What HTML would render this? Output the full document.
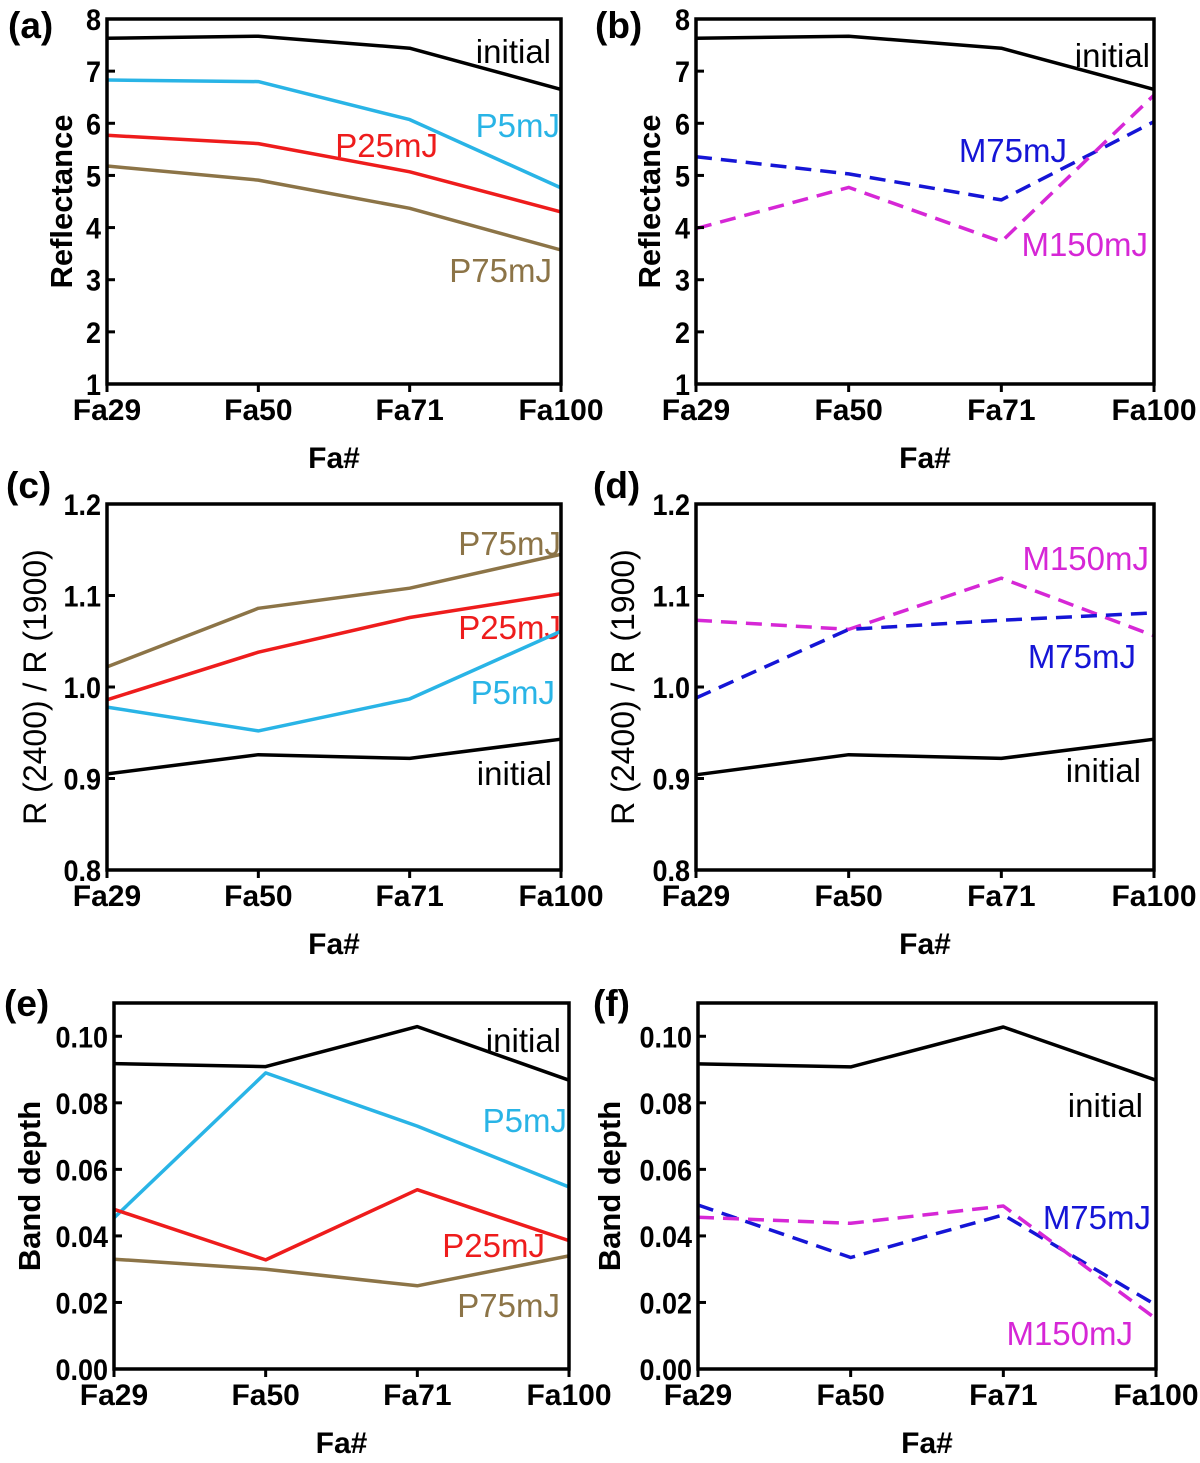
<!DOCTYPE html>
<html><head><meta charset="utf-8"><style>
html,body{margin:0;padding:0;background:#fff;}
svg{display:block;font-family:"Liberation Sans",Arial,sans-serif;}
</style></head><body>
<svg id="fig" width="1200" height="1463" viewBox="0 0 1200 1463" xmlns="http://www.w3.org/2000/svg"></svg>
<script>
const categories = ["Fa29","Fa50","Fa71","Fa100"];
// (a)
const aInitial = [7.63,7.67,7.44,6.65];
const aP5 = [6.83,6.80,6.07,4.76];
const aP25 = [5.77,5.61,5.07,4.30];
const aP75 = [5.18,4.91,4.37,3.57];
const aTicks = ["1","2","3","4","5","6","7","8"];
// (b)
const bInitial = [7.63,7.67,7.44,6.65];
const bM75 = [5.36,5.03,4.53,6.03];
const bM150 = [3.98,4.77,3.73,6.54];
// (c)
const cInitial = [0.905,0.926,0.922,0.943];
const cP5 = [0.978,0.952,0.987,1.061];
const cP25 = [0.986,1.038,1.076,1.102];
const cP75 = [1.022,1.086,1.108,1.145];
const cTicks = ["0.8","0.9","1.0","1.1","1.2"];
// (d)
const dInitial = [0.904,0.926,0.922,0.943];
const dM150 = [1.073,1.063,1.119,1.056];
const dM75 = [0.988,1.063,1.073,1.081];
// (e)
const eInitial = [0.0918,0.0909,0.1029,0.0868];
const eP5 = [0.0454,0.089,0.073,0.0547];
const eP25 = [0.048,0.0328,0.0539,0.0386];
const eP75 = [0.033,0.030,0.025,0.034];
const eTicks = ["0.00","0.02","0.04","0.06","0.08","0.10"];
// (f)
const fInitial = [0.0917,0.0908,0.1028,0.0868];
const fM75 = [0.0493,0.0335,0.0463,0.0192];
const fM150 = [0.0456,0.0438,0.049,0.0151];

const NS="http://www.w3.org/2000/svg";
const svg=document.getElementById('fig');
function mk(tag,attrs,parent){const e=document.createElementNS(NS,tag);for(const k in attrs)e.setAttribute(k,attrs[k]);(parent||svg).appendChild(e);return e;}

const C={black:"#000",p5:"#29b4e6",p25:"#ee1c1c",p75:"#8c7447",m75:"#1515d6",m150:"#d627d6"};

function panel(cfg){
  const g=mk('g',{});
  
  
  const {L,R,T,B,ymin,ymax}=cfg;
  const xs=i=>L+(R-L)*i/(categories.length-1);
  const ys=v=>B-(v-ymin)/(ymax-ymin)*(B-T);
  cfg.series.forEach(s=>{
    const pts=s.data.map((v,i)=>xs(i).toFixed(1)+','+ys(v).toFixed(1)).join(' ');
    const pl=mk('polyline',{points:pts,fill:'none',stroke:s.color,'stroke-width':3.5,'stroke-linejoin':'round'},g);
    if(s.dash)pl.setAttribute('stroke-dasharray','16 9');
    
    
    const t=mk('text',{x:s.lx,y:s.ly,'font-size':33,fill:s.color,'text-anchor':'end'},g);
    t.textContent=s.label;
    
    
  });
  const box=mk('rect',{x:L,y:T,width:R-L,height:B-T,fill:'none',stroke:'#000','stroke-width':3.5},g);
  
  
  cfg.ticks.forEach(lbl=>{
    const v=parseFloat(lbl);const y=ys(v);
    mk('line',{x1:L,x2:L+8,y1:y,y2:y,stroke:'#000','stroke-width':3},g);
    const t=mk('text',{x:L-6,y:y+11,'font-size':30,'font-weight':'bold','text-anchor':'end',transform:`translate(${L-6},0) scale(0.9,1) translate(${-(L-6)},0)`},g);
    t.textContent=lbl;
    
    
  });
  categories.forEach((c,i)=>{
    const x=xs(i);
    mk('line',{x1:x,x2:x,y1:B,y2:B+8,stroke:'#000','stroke-width':3},g);
    const t=mk('text',{x:x,y:B+36,'font-size':30,'font-weight':'bold','text-anchor':'middle'},g);
    t.textContent=c;
    
    
  });
  const xt=mk('text',{x:(L+R)/2,y:B+84,'font-size':30,'font-weight':'bold','text-anchor':'middle'},g);
  xt.textContent='Fa#';
  
  
  const yt=mk('text',{x:0,y:0,'font-size':cfg.ytfs||31,'font-weight':cfg.ytBold?'bold':'normal','text-anchor':'middle',transform:`translate(${cfg.ytx},${(T+B)/2}) rotate(-90)`},g);
  yt.textContent=cfg.ytitle;
  
  
  const pl=mk('text',{x:cfg.px,y:cfg.py,'font-size':37,'font-weight':'bold'},g);
  pl.textContent=cfg.letter;
  
  
}

panel({id:'a',letter:'(a)',px:8,py:38,L:107,R:561,T:19,B:384,ymin:1,ymax:8,ticks:aTicks,ytitle:'Reflectance',ytx:72,ytBold:true,
 series:[
  {name:'initial',data:aInitial,color:C.black,label:'initial',lx:551,ly:63},
  {name:'p5mj',data:aP5,color:C.p5,label:'P5mJ',lx:560,ly:137},
  {name:'p25mj',data:aP25,color:C.p25,label:'P25mJ',lx:438,ly:157},
  {name:'p75mj',data:aP75,color:C.p75,label:'P75mJ',lx:552,ly:282}]});
panel({id:'b',letter:'(b)',px:595,py:38,L:696,R:1154,T:19,B:384,ymin:1,ymax:8,ticks:aTicks,ytitle:'Reflectance',ytx:660,ytBold:true,
 series:[
  {name:'initial',data:bInitial,color:C.black,label:'initial',lx:1150,ly:67},
  {name:'m75mj',data:bM75,color:C.m75,label:'M75mJ',lx:1067,ly:162},
  {name:'m150mj',data:bM150,color:C.m150,label:'M150mJ',lx:1148,ly:256,dash:false}].map(s=>{if(s.name!=='initial')s.dash=true;return s;})});
panel({id:'c',letter:'(c)',px:6,py:498,L:107,R:561,T:504,B:870,ymin:0.8,ymax:1.2,ticks:cTicks,ytitle:'R (2400) / R (1900)',ytx:46,ytBold:false,ytfs:32,
 series:[
  {name:'p75mj',data:cP75,color:C.p75,label:'P75mJ',lx:561,ly:555},
  {name:'p25mj',data:cP25,color:C.p25,label:'P25mJ',lx:561,ly:639},
  {name:'p5mj',data:cP5,color:C.p5,label:'P5mJ',lx:555,ly:704},
  {name:'initial',data:cInitial,color:C.black,label:'initial',lx:552,ly:785}]});
panel({id:'d',letter:'(d)',px:593,py:498,L:696,R:1154,T:504,B:870,ymin:0.8,ymax:1.2,ticks:cTicks,ytitle:'R (2400) / R (1900)',ytx:634,ytBold:false,ytfs:32,
 series:[
  {name:'m150mj',data:dM150,color:C.m150,label:'M150mJ',lx:1149,ly:570,dash:true},
  {name:'m75mj',data:dM75,color:C.m75,label:'M75mJ',lx:1136,ly:668,dash:true},
  {name:'initial',data:dInitial,color:C.black,label:'initial',lx:1141,ly:782}]});
panel({id:'e',letter:'(e)',px:4,py:1016,L:114,R:569,T:1003,B:1369,ymin:0,ymax:0.11,ticks:eTicks,ytitle:'Band depth',ytx:40,ytBold:true,
 series:[
  {name:'initial',data:eInitial,color:C.black,label:'initial',lx:561,ly:1052},
  {name:'p5mj',data:eP5,color:C.p5,label:'P5mJ',lx:567,ly:1132},
  {name:'p25mj',data:eP25,color:C.p25,label:'P25mJ',lx:545,ly:1257},
  {name:'p75mj',data:eP75,color:C.p75,label:'P75mJ',lx:560,ly:1317}]});
panel({id:'f',letter:'(f)',px:593,py:1016,L:698,R:1156,T:1003,B:1369,ymin:0,ymax:0.11,ticks:eTicks,ytitle:'Band depth',ytx:620,ytBold:true,
 series:[
  {name:'initial',data:fInitial,color:C.black,label:'initial',lx:1143,ly:1117},
  {name:'m75mj',data:fM75,color:C.m75,label:'M75mJ',lx:1151,ly:1229,dash:true},
  {name:'m150mj',data:fM150,color:C.m150,label:'M150mJ',lx:1133,ly:1345,dash:true}]});
</script>
</body></html>
